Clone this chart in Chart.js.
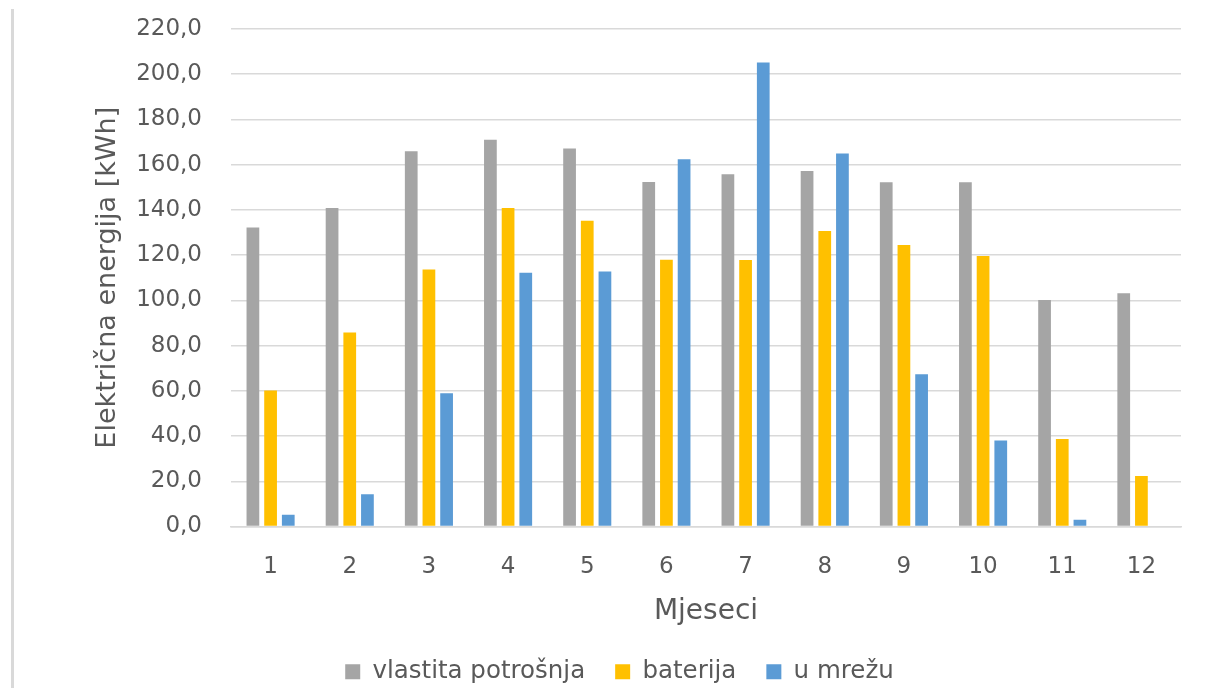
<!DOCTYPE html>
<html>
<head>
<meta charset="utf-8">
<title>Električna energija po mjesecima</title>
<script src="https://cdn.jsdelivr.net/npm/chart.js@4.4.1/dist/chart.umd.min.js"></script>
<style>
  html, body { margin: 0; padding: 0; background: #fff; }
  #wrap { position: relative; width: 1213px; height: 688px; }
  #edge { position: absolute; left: 11px; top: 9px; width: 3px; height: 679px; background: #d9d9d9; }
</style>
</head>
<body>
<div id="wrap">
  <canvas id="chart" width="1213" height="688"></canvas>
  <div id="edge"></div>
</div>
<script>
// months 1..12
const months = ['1', '2', '3', '4', '5', '6', '7', '8', '9', '10', '11', '12'];

// kWh
const vlastitaPotrosnja = [132.2, 140.8, 165.9, 171.0, 167.2, 152.3, 155.8, 157.2, 152.2, 152.2, 100.2, 103.2];
const baterija = [60.1, 85.8, 113.6, 140.8, 135.2, 118.0, 117.9, 130.7, 124.5, 119.6, 38.7, 22.3];
const uMrezu = [5.2, 14.3, 58.9, 112.2, 112.8, 162.4, 205.2, 165.0, 67.3, 38.0, 3.0, 0];

const seriesNames = ['vlastita potrošnja', 'baterija', 'u mrežu'];
const seriesColors = ['#A5A5A5', '#FFC000', '#5B9BD5'];

const yMin = 0;
const yMax = 220;
const yStep = 20;

const textColor = '#595959';
const gridColor = '#d9d9d9';
const fontFamily = '"DejaVu Sans", sans-serif';

const ctx = document.getElementById('chart').getContext('2d');

new Chart(ctx, {
    type: 'bar',
    data: {
        labels: months,
        datasets: [vlastitaPotrosnja, baterija, uMrezu].map((vals, i) => ({
            label: seriesNames[i],
            data: vals,
            backgroundColor: seriesColors[i],
            borderWidth: 0,
            barPercentage: 0.72,
            categoryPercentage: 0.67
        }))
    },
    options: {
        responsive: false,
        animation: false,
        layout: { padding: { left: 58, right: 32, top: 29, bottom: -6 } },
        plugins: {
            tooltip: { enabled: false },
            legend: {
                position: 'bottom',
                labels: {
                    color: textColor,
                    font: { family: fontFamily, size: 24.5 },
                    boxWidth: 15,
                    boxHeight: 15,
                    padding: 30
                }
            }
        },
        scales: {
            x: {
                grid: { display: false, drawTicks: false },
                border: { display: true, color: gridColor, width: 1.5 },
                ticks: {
                    color: textColor,
                    font: { family: fontFamily, size: 23, lineHeight: 1 },
                    padding: 29,
                    maxRotation: 0
                },
                title: {
                    display: true,
                    text: 'Mjeseci',
                    color: textColor,
                    font: { family: fontFamily, size: 28, lineHeight: 1 },
                    padding: { top: -10, bottom: 4 }
                }
            },
            y: {
                min: yMin,
                max: yMax,
                afterFit: (scale) => { scale.width = 231 - 58; },
                // invisible tick marks push the labels away from the plot
                grid: { color: gridColor, lineWidth: 1.5, drawTicks: true, tickLength: 29, tickColor: 'rgba(0,0,0,0)' },
                border: { display: false },
                ticks: {
                    stepSize: yStep,
                    color: textColor,
                    font: { family: fontFamily, size: 23 },
                    padding: 0,
                    callback: (v) => v.toFixed(1).replace('.', ',')
                },
                title: {
                    display: true,
                    text: 'Električna energija [kWh]',
                    color: textColor,
                    font: { family: fontFamily, size: 27 },
                    padding: { top: 34, bottom: 0 }
                }
            }
        }
    }
});
</script>
</body>
</html>
